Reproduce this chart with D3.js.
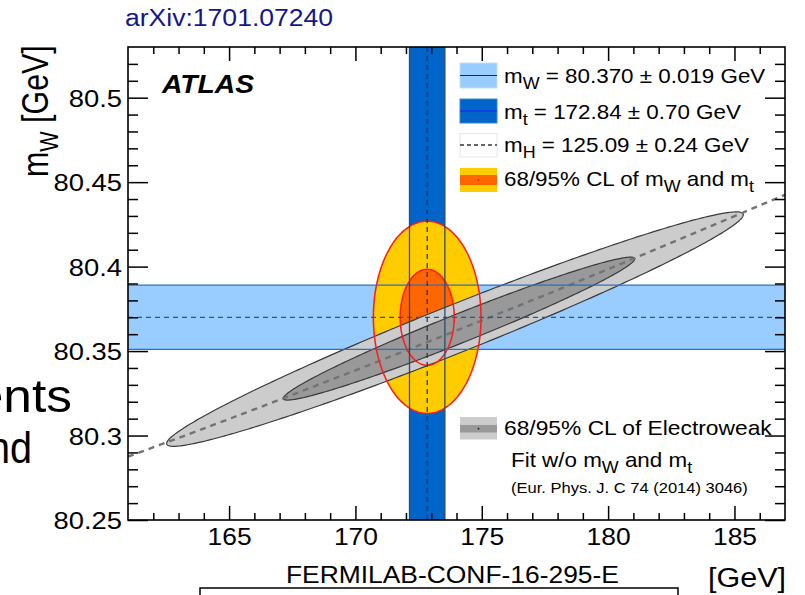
<!DOCTYPE html>
<html>
<head>
<meta charset="utf-8">
<script src="https://cdn.jsdelivr.net/npm/d3@7"></script>
<style>
  html, body { margin: 0; padding: 0; background: #fff; }
  svg { display: block; font-family: "Liberation Sans", Arial, Helvetica, sans-serif; }
</style>
</head>
<body>
<svg id="chart" width="805" height="595"></svg>
<script>
// ---- axis ranges and ticks (GeV) ----
const mtDomain = [161, 187];
const mwDomain = [80.25, 80.53];
const mtMajorTicks = [165, 170, 175, 180, 185];
const mwMajorTicks = [80.25, 80.3, 80.35, 80.4, 80.45, 80.5];
const mtTickLabels = ["165", "170", "175", "180", "185"];
const mwTickLabels = ["80.25", "80.3", "80.35", "80.4", "80.45", "80.5"];

// ---- direct measurements: [value, uncertainty] ----
const mwMeasured = [80.370, 0.019];
const mtMeasured = [172.84, 0.70];
const mhMeasured = [125.09, 0.24];

// ---- SM prediction of mW versus mt for the measured mH ----
const smMt = [161, 165, 170, 175, 180, 187];
const smMw = [80.2875, 80.3098, 80.3386, 80.3681, 80.3985, 80.4425];

// ---- combined mW / mt measurement contours, index 0 = 68 %, 1 = 95 % ----
const measHalfMt = [1.07, 2.13];
const measHalfMw = [0.0284, 0.0569];

// ---- electroweak fit (w/o mW and mt) contours, index 0 = 68 %, 1 = 95 % ----
const ewCenterMt = [174.10, 173.94];
const ewCenterMw = [80.3633, 80.3630];
const ewHalfMt   = [6.955, 11.41];
const ewTipMw    = [0.0413, 0.0677];
const ewWidthMw  = [0.0092, 0.0152];

// ---- layout ----
const W = 805, H = 595;
const L = 128, R = 785, T = 47, B = 520;
const SX = 1.14;                 // horizontal glyph stretch
const FONT = '"Liberation Sans", Arial, Helvetica, sans-serif';

const svg = d3.select("#chart");
svg.append("rect").attr("width", W).attr("height", H).attr("fill", "#fff");

const x = d3.scaleLinear().domain(mtDomain).range([L, R]);
const y = d3.scaleLinear().domain(mwDomain).range([B, T]);

svg.append("defs").append("clipPath").attr("id", "plotClip")
  .append("rect").attr("x", L).attr("y", T).attr("width", R - L).attr("height", B - T);
const plot = svg.append("g").attr("clip-path", "url(#plotClip)");

// parametric contour: mt = c + a cos t, mw = c + bAlong cos t + bPerp sin t
function contourPath(ct, cw, a, bAlong, bPerp) {
  const pts = d3.range(0, 361).map(i => {
    const t = i * Math.PI / 180;
    return [x(ct + a * Math.cos(t)), y(cw + bAlong * Math.cos(t) + bPerp * Math.sin(t))];
  });
  return d3.line()(pts) + "Z";
}

const [mw0, dmw] = mwMeasured;
const [mt0, dmt] = mtMeasured;

// measurement bands
plot.append("rect")
  .attr("x", x(mt0 - dmt)).attr("width", x(mt0 + dmt) - x(mt0 - dmt))
  .attr("y", T).attr("height", B - T).attr("fill", "#0064c8");
plot.append("rect")
  .attr("x", L).attr("width", R - L)
  .attr("y", y(mw0 + dmw)).attr("height", y(mw0 - dmw) - y(mw0 + dmw))
  .attr("fill", "#99ccff");

// combined measurement contours (fills)
const measFill = ["#ff6600", "#ffcc00"];
[1, 0].forEach(i => {
  plot.append("path")
    .attr("d", contourPath(mt0, mw0, measHalfMt[i], 0, measHalfMw[i]))
    .attr("fill", measFill[i]);
});

// electroweak fit contours
const ewFill = ["#999999", "#cccccc"];
[1, 0].forEach(i => {
  plot.append("path")
    .attr("d", contourPath(ewCenterMt[i], ewCenterMw[i], ewHalfMt[i], ewTipMw[i], ewWidthMw[i]))
    .attr("fill", ewFill[i]).attr("stroke", "#3a3a3a").attr("stroke-width", 1.2);
});

// SM prediction line
plot.append("path")
  .datum(d3.zip(smMt, smMw))
  .attr("d", d3.line().x(d => x(d[0])).y(d => y(d[1])).curve(d3.curveNatural))
  .attr("fill", "none").attr("stroke", "#737373").attr("stroke-width", 2.4)
  .attr("stroke-dasharray", "6,5");

// measurement contour outlines
[1, 0].forEach(i => {
  plot.append("path")
    .attr("d", contourPath(mt0, mw0, measHalfMt[i], 0, measHalfMw[i]))
    .attr("fill", "none").attr("stroke", "#ff1a1a").attr("stroke-width", 1.5);
});

// band edges and central values
[mw0 - dmw, mw0 + dmw].forEach(v => {
  plot.append("line").attr("x1", L).attr("x2", R).attr("y1", y(v)).attr("y2", y(v))
    .attr("stroke", "#2b6fc8").attr("stroke-width", 1.3);
});
plot.append("line").attr("x1", L).attr("x2", R).attr("y1", y(mw0)).attr("y2", y(mw0))
  .attr("stroke", "#1c5a98").attr("stroke-width", 1.2).attr("stroke-dasharray", "5,4");
[mt0 - dmt, mt0 + dmt].forEach(v => {
  plot.append("line").attr("x1", x(v)).attr("x2", x(v)).attr("y1", T).attr("y2", B)
    .attr("stroke", "#2e4a68").attr("stroke-width", 1.3);
});
plot.append("line").attr("x1", x(mt0)).attr("x2", x(mt0)).attr("y1", T).attr("y2", B)
  .attr("stroke", "#1c2f52").attr("stroke-width", 1.2).attr("stroke-dasharray", "5,4");

// ---- axes (inward ticks on all four sides) ----
const mtMinor = d3.range(162, 187).filter(v => !mtMajorTicks.includes(v));
const mwMinor = d3.range(26, 53).map(i => 80 + i / 100).filter(v => Math.round(v * 100) % 5 !== 0);

function tickAxis(gen, ticks, size, tr) {
  const g = svg.append("g").attr("transform", tr)
    .call(gen.tickValues(ticks).tickSize(-size).tickFormat(""));
  g.select(".domain").remove();
  g.selectAll("line").attr("stroke", "#000").attr("stroke-width", 1.5);
  return g;
}
tickAxis(d3.axisBottom(x), mtMinor, 7, `translate(0,${B})`);
tickAxis(d3.axisTop(x), mtMinor, 7, `translate(0,${T})`);
tickAxis(d3.axisBottom(x), mtMajorTicks, 14, `translate(0,${B})`);
tickAxis(d3.axisTop(x), mtMajorTicks, 14, `translate(0,${T})`);
tickAxis(d3.axisLeft(y), mwMinor, 10, `translate(${L},0)`);
tickAxis(d3.axisRight(y), mwMinor, 10, `translate(${R},0)`);
tickAxis(d3.axisLeft(y), mwMajorTicks, 20, `translate(${L},0)`);
tickAxis(d3.axisRight(y), mwMajorTicks, 20, `translate(${R},0)`);

// tick labels
const xLab = svg.append("g").attr("transform", `translate(0,${B})`)
  .call(d3.axisBottom(x).tickValues(mtMajorTicks).tickSize(0).tickPadding(8)
    .tickFormat((d, i) => mtTickLabels[i]));
xLab.select(".domain").remove();
xLab.selectAll("text").attr("fill", "#000").style("font-size", "24px").style("font-family", FONT)
  .attr("transform", `scale(1.1,1)`);

const yLab = svg.append("g").attr("transform", `translate(${L},0)`)
  .call(d3.axisLeft(y).tickValues(mwMajorTicks).tickSize(0).tickPadding(6 / SX)
    .tickFormat((d, i) => mwTickLabels[i]));
yLab.select(".domain").remove();
yLab.selectAll("text").attr("fill", "#000").style("font-size", "24px").style("font-family", FONT)
  .attr("dy", "0.36em").attr("transform", `scale(${SX},1)`);

// frame
svg.append("rect").attr("x", L).attr("y", T).attr("width", R - L).attr("height", B - T)
  .attr("fill", "none").attr("stroke", "#000").attr("stroke-width", 1.6);

// ---- text helpers: "m_{W}" style subscripts ----
function parseRich(str) {
  const parts = [];
  const re = /_\{([^}]*)\}/g;
  let last = 0, m;
  while ((m = re.exec(str)) !== null) {
    if (m.index > last) parts.push([str.slice(last, m.index), false]);
    parts.push([m[1], true]);
    last = re.lastIndex;
  }
  if (last < str.length) parts.push([str.slice(last), false]);
  return parts;
}
function richText(parent, px, py, str, size, opt = {}) {
  const sx = opt.sx || SX;
  const t = parent.append("text")
    .attr("transform", `translate(${px},${py}) scale(${sx},1)`)
    .attr("text-anchor", opt.anchor || "start")
    .style("font-size", size + "px").style("font-family", FONT)
    .attr("fill", opt.color || "#000");
  if (opt.weight) t.style("font-weight", opt.weight);
  if (opt.style) t.style("font-style", opt.style);
  const shift = size * 0.3;
  let down = false;
  parseRich(str).forEach(([s, sub]) => {
    const ts = t.append("tspan").text(s);
    if (sub && !down) { ts.attr("dy", shift).style("font-size", (size * 0.8) + "px"); down = true; }
    else if (sub) { ts.style("font-size", (size * 0.8) + "px"); }
    else if (down) { ts.attr("dy", -shift); down = false; }
  });
  return t;
}

// ---- legend ----
const leg = svg.append("g");
const bx = 460, bw = 37;
// m_W band
leg.append("rect").attr("x", bx).attr("y", 63).attr("width", bw).attr("height", 25)
  .attr("fill", "#99ccff").attr("stroke", "#c4defa").attr("stroke-width", 1);
leg.append("line").attr("x1", bx).attr("x2", bx + bw).attr("y1", 75.5).attr("y2", 75.5)
  .attr("stroke", "#0a0aff").attr("stroke-width", 1.2);
// m_t band
leg.append("rect").attr("x", bx).attr("y", 99).attr("width", bw).attr("height", 24)
  .attr("fill", "#0064c8").attr("stroke", "#3d86d4").attr("stroke-width", 1);
leg.append("line").attr("x1", bx).attr("x2", bx + bw).attr("y1", 111).attr("y2", 111)
  .attr("stroke", "#1a1aff").attr("stroke-width", 1.2);
// m_H line
leg.append("rect").attr("x", bx).attr("y", 133.5).attr("width", bw).attr("height", 23.5)
  .attr("fill", "#fff").attr("stroke", "#e6e6e6").attr("stroke-width", 1);
leg.append("line").attr("x1", bx).attr("x2", bx + bw).attr("y1", 145).attr("y2", 145)
  .attr("stroke", "#666").attr("stroke-width", 1.8).attr("stroke-dasharray", "4,3");
// measurement contours
leg.append("rect").attr("x", bx).attr("y", 168).attr("width", bw).attr("height", 24).attr("fill", "#ffcc00");
leg.append("rect").attr("x", bx).attr("y", 175).attr("width", bw).attr("height", 10).attr("fill", "#ff6600");
leg.append("circle").attr("cx", bx + bw / 2).attr("cy", 180).attr("r", 0.8).attr("fill", "#8a2a00");
// electroweak fit contours
leg.append("rect").attr("x", bx).attr("y", 417).attr("width", bw).attr("height", 22.5).attr("fill", "#cccccc");
leg.append("rect").attr("x", bx).attr("y", 425).attr("width", bw).attr("height", 7.5).attr("fill", "#999999");
leg.append("circle").attr("cx", bx + bw / 2).attr("cy", 428.7).attr("r", 0.9).attr("fill", "#222");

const fmt = (v, d) => v.toFixed(d);
richText(leg, 504, 83, `m_{W} = ${fmt(mwMeasured[0], 3)} \u00b1 ${fmt(mwMeasured[1], 3)} GeV`, 20, { sx: 1.12 });
richText(leg, 504, 118.5, `m_{t} = ${fmt(mtMeasured[0], 2)} \u00b1 ${fmt(mtMeasured[1], 2)} GeV`, 20, { sx: 1.12 });
richText(leg, 504, 152, `m_{H} = ${fmt(mhMeasured[0], 2)} \u00b1 ${fmt(mhMeasured[1], 2)} GeV`, 20, { sx: 1.12 });
richText(leg, 504, 186, "68/95% CL of m_{W} and m_{t}", 20, { sx: 1.12 });
richText(leg, 504, 434.5, "68/95% CL of Electroweak", 20);
richText(leg, 511, 467, "Fit w/o m_{W} and m_{t}", 20, { sx: 1.12 });
richText(leg, 511, 493, "(Eur. Phys. J. C 74 (2014) 3046)", 14.5);

// ATLAS label
richText(svg, 162, 93, "ATLAS", 25, { weight: "bold", style: "italic", sx: 1.13 });

// axis titles
const yTitle = svg.append("text")
  .attr("transform", "translate(48,177) scale(1.2,0.98) rotate(-90)")
  .style("font-size", "31px").style("font-family", FONT).attr("fill", "#000");
yTitle.append("tspan").text("m");
yTitle.append("tspan").text("W").attr("dy", 8).style("font-size", "22px");
yTitle.append("tspan").text(" [GeV]").attr("dy", -8);

richText(svg, 786, 587, "[GeV]", 28, { anchor: "end", sx: 1.09 });

// header and surrounding slide text
richText(svg, 125, 26, "arXiv:1701.07240", 23.5, { color: "#16168a", sx: 1.13 });
richText(svg, 286, 583, "FERMILAB-CONF-16-295-E", 24, { sx: 1.1 });
richText(svg, 72, 411.5, "ents", 46, { anchor: "end", sx: 1.12 });
richText(svg, 32, 463, "nd", 44, { anchor: "end", sx: 0.9 });
svg.append("rect").attr("x", 200).attr("y", 588).attr("width", 478).attr("height", 40)
  .attr("fill", "none").attr("stroke", "#000").attr("stroke-width", 1.5);
</script>
</body>
</html>
